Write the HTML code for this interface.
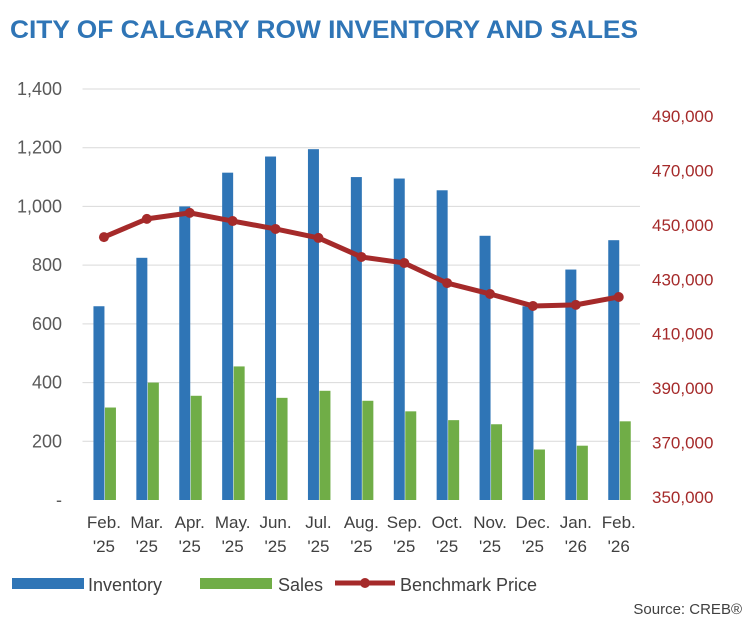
<!DOCTYPE html>
<html><head><meta charset="utf-8"><style>
body{margin:0;background:#fff;font-family:"Liberation Sans",Arial,sans-serif}
svg text{font-family:"Liberation Sans",Arial,sans-serif}
</style></head><body>
<svg id="chart" width="754" height="628" viewBox="0 0 754 628">
<text x="10" y="38" font-size="25" font-weight="bold" fill="#2f75b6" textLength="628" lengthAdjust="spacingAndGlyphs">CITY OF CALGARY ROW INVENTORY AND SALES</text>
<g id="grid"></g><g id="bars"></g><g id="line"></g><g id="axes"></g>
<g>
<rect x="12" y="578" width="72" height="11" fill="#2f75b6"/>
<text x="88" y="591" font-size="18" fill="#404040">Inventory</text>
<rect x="200" y="578" width="72" height="11" fill="#70ad47"/>
<text x="278" y="591" font-size="18" fill="#404040">Sales</text>
<line x1="335" y1="583" x2="395" y2="583" stroke="#a52a2a" stroke-width="5"/>
<circle cx="365" cy="583" r="5" fill="#a52a2a"/>
<text x="400" y="591" font-size="18" fill="#404040">Benchmark Price</text>
</g>
<text x="742" y="614" font-size="15" fill="#404040" text-anchor="end">Source: CREB®</text>
</svg>
<script>
const months=["Feb.","Mar.","Apr.","May.","Jun.","Jul.","Aug.","Sep.","Oct.","Nov.","Dec.","Jan.","Feb."];
const years=["'25","'25","'25","'25","'25","'25","'25","'25","'25","'25","'25","'26","'26"];
const inventory=[660,825,1000,1115,1170,1195,1100,1095,1055,900,660,785,885];
const sales=[315,400,355,455,348,372,338,302,272,258,172,185,268];
const benchmark=[445500,452200,454400,451400,448500,445200,438200,436000,428600,424600,420200,420600,423500];
const leftTicks=[0,200,400,600,800,1000,1200,1400];
const rightTicks=[350000,370000,390000,410000,430000,450000,470000,490000];
const NS="http://www.w3.org/2000/svg";
const x0=82.5,step=42.9,plotR=640;
const yL=v=>500-v*(411/1400);
const yR=v=>497-(v-350000)*(381/140000);
const xc=i=>x0+step*(i+0.5);
function mk(tag,attrs,parent){const e=document.createElementNS(NS,tag);for(const k in attrs)e.setAttribute(k,attrs[k]);document.getElementById(parent).appendChild(e);return e;}
leftTicks.forEach(t=>{
 if(t>0){const g=mk('line',{x1:x0,x2:plotR,y1:yL(t),y2:yL(t),stroke:'#d9d9d9','stroke-width':1},'grid');
 
 }
 const l=mk('text',{x:62,y:yL(t)+6,'font-size':18,fill:'#595959','text-anchor':'end'},'axes');
 l.textContent=t===0?'-':t.toLocaleString('en-US');
 
 
});
rightTicks.forEach(t=>{
 const l=mk('text',{x:652,y:yR(t)+6,'font-size':17,fill:'#a52a2a'},'axes');
 l.textContent=t.toLocaleString('en-US');
 
 
});
months.forEach((m,i)=>{
 const t=mk('text',{x:xc(i),y:528,'font-size':17,fill:'#404040','text-anchor':'middle'},'axes');
 t.textContent=m;
 
 
 const y=mk('text',{x:xc(i),y:552,'font-size':17,fill:'#404040','text-anchor':'middle'},'axes');
 y.textContent=years[i];
 
 
 const b=mk('rect',{x:xc(i)-10.5,y:yL(inventory[i]),width:11,height:yL(0)-yL(inventory[i]),fill:'#2f75b6'},'bars');
 
 
 const s=mk('rect',{x:xc(i)+1,y:yL(sales[i]),width:11,height:yL(0)-yL(sales[i]),fill:'#70ad47'},'bars');
 
 
});
const p=mk('polyline',{points:benchmark.map((v,i)=>xc(i)+','+yR(v)).join(' '),fill:'none',stroke:'#a52a2a','stroke-width':5,'stroke-linejoin':'round'},'line');


benchmark.forEach((v,i)=>{
 const c=mk('circle',{cx:xc(i),cy:yR(v),r:5,fill:'#a52a2a'},'line');
 
 
});
</script>
</body></html>
